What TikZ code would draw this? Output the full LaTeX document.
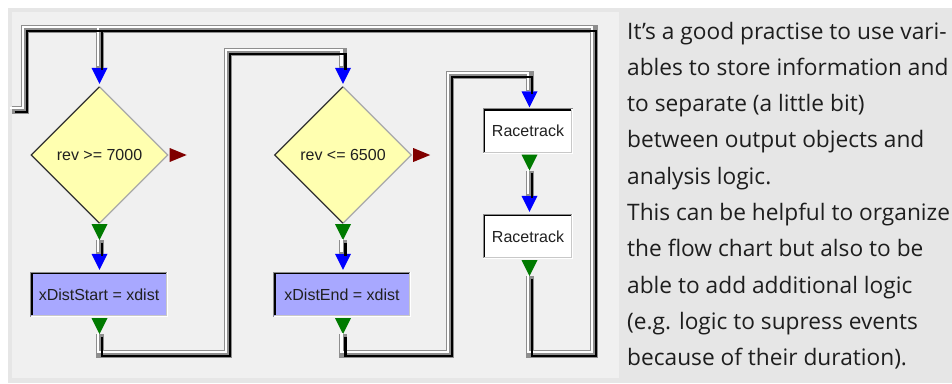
\documentclass[tikz,border=0pt]{standalone}
\usepackage{fontspec}
\setmainfont{Open Sans}
\newfontfamily\chartfont{Liberation Sans}
\usetikzlibrary{shapes.geometric,calc}

\definecolor{outerbg}{HTML}{E6E6E6}
\definecolor{panelbg}{HTML}{F0F0F0}
\definecolor{textbg}{HTML}{E6E6E6}
\definecolor{decfill}{HTML}{FFFFB0}
\definecolor{asgfill}{HTML}{A8A8FF}
\definecolor{inblue}{HTML}{0000FF}
\definecolor{outgreen}{HTML}{007A00}
\definecolor{falsered}{HTML}{800000}
\definecolor{pipegray}{HTML}{8E8E8E}
\definecolor{charttext}{HTML}{202020}
\definecolor{bodytext}{HTML}{1E1E1E}
\definecolor{edgedark}{HTML}{303030}
\definecolor{edgelight}{HTML}{A8A8A8}
\definecolor{frameouter}{HTML}{8C8C8C}
\definecolor{framelight}{HTML}{C8C8C8}

\tikzset{
  decision/.style={diamond, shape aspect=1, fill=decfill, inner sep=0pt,
    minimum width=136pt, minimum height=136pt, font=\chartfont\fontsize{16}{18}\selectfont, text=charttext},
  assign/.style={rectangle, fill=asgfill, inner sep=0pt, minimum width=137pt, minimum height=45pt,
    font=\chartfont\fontsize{16}{18}\selectfont, text=charttext},
  output/.style={rectangle, fill=white, inner sep=0pt, minimum width=90pt, minimum height=45pt,
    font=\chartfont\fontsize{16}{18}\selectfont, text=charttext},
  bodyline/.style={anchor=base west, inner sep=0pt, text=bodytext, font=\fontsize{22.7}{36}\selectfont},
  inarrow/.pic={\fill[inblue] (0,0) -- (-8,-16) -- (8,-16) -- cycle;},
  outarrow/.pic={\fill[outgreen] (-8,0) -- (8,0) -- (0,16) -- cycle;},
  falsearrow/.pic={\fill[falsered] (0,-7) -- (17,0) -- (0,7) -- cycle;},
}

\newcommand\sunkenframe[1]{%
  \draw[frameouter, line width=1pt] ($(#1.south west)+(0.5,-0.5)$) |- ($(#1.north east)+(-0.5,0.5)$);
  \draw[black, line width=1.5pt] ($(#1.south west)+(1.75,-1.75)$) |- ($(#1.north east)+(-1.75,1.75)$);
  \draw[white, line width=1pt] ($(#1.south west)+(0.5,-0.5)$) -| ($(#1.north east)+(-0.5,0.5)$);
  \draw[framelight, line width=1pt] ($(#1.south west)+(1.5,-1.5)$) -| ($(#1.north east)+(-1.5,1.5)$);
}
\newcommand\diamondedges[1]{%
  \draw[edgelight, line width=1.2pt, line join=miter] (#1.north) -- (#1.east) -- (#1.south);
  \draw[edgedark, line width=1.2pt, line join=miter] (#1.north) -- (#1.west) -- (#1.south);
}
\newcommand\allpipes[1]{%
  \draw[#1] (entry) -- (24.5,109.5) -- (24.5,28.5) -- (in_d1 |- 0,28.5);
  \draw[#1] (out_r2) |- (593.5,353.5) -- (593.5,28.5) -| (in_d1);
  \draw[#1] (out_d1) -- (in_b1);
  \draw[#1] (out_b1) |- (227.5,353.5) -- (227.5,51.5) -| (in_d2);
  \draw[#1] (out_d2) -- (in_b2);
  \draw[#1] (out_b2) |- (449.5,353.5) -- (449.5,74.5) -| (in_r1);
  \draw[#1] (out_r1) -- (in_r2);
}

\begin{document}
\begin{tikzpicture}[x=1pt, y=-1pt]
\path[use as bounding box, fill=white] (0,0) rectangle (952,383);
\fill[outerbg] (8,8) rectangle (952,383);
\fill[panelbg] (12,12) rectangle (619,378);
\fill[textbg] (619,8) rectangle (952,383);

% nodes
\node[decision] (d1) at (99.5,155) {rev >= 7000};
\node[assign] (b1) at (99,294.5) {xDistStart = xdist};
\node[decision] (d2) at (343,155) {rev <= 6500};
\node[assign] (b2) at (342,294.5) {xDistEnd = xdist};
\node[output] (r1) at (528,131) {Racetrack};
\node[output] (r2) at (528,236.5) {Racetrack};

\diamondedges{d1}
\diamondedges{d2}
\sunkenframe{b1}
\sunkenframe{b2}
\sunkenframe{r1}
\sunkenframe{r2}

% ports
\coordinate (entry) at (12,109.5);
\coordinate (in_d1) at ($(d1.north)+(0,-19)$);
\coordinate (out_d1) at ($(d1.south)+(0,17)$);
\coordinate (in_b1) at ($(b1.north)+(0.5,-18)$);
\coordinate (out_b1) at ($(b1.south)+(0.5,17)$);
\coordinate (in_d2) at ($(d2.north)+(0,-19)$);
\coordinate (out_d2) at ($(d2.south)+(0,17)$);
\coordinate (in_b2) at ($(b2.north)+(1,-18)$);
\coordinate (out_b2) at ($(b2.south)+(1,17)$);
\coordinate (in_r1) at ($(r1.north)+(1.5,-17)$);
\coordinate (out_r1) at ($(r1.south)+(1.5,17)$);
\coordinate (in_r2) at ($(r2.north)+(1.5,-18)$);
\coordinate (out_r2) at ($(r2.south)+(1.5,17)$);

% port arrows
\path ($(in_d1)+(0,16)$) pic {inarrow};
\path ($(in_b1)+(0,16)$) pic {inarrow};
\path ($(in_d2)+(0,16)$) pic {inarrow};
\path ($(in_b2)+(0,16)$) pic {inarrow};
\path ($(in_r1)+(0,16)$) pic {inarrow};
\path ($(in_r2)+(0,16)$) pic {inarrow};
\path ($(out_d1)+(0,-16)$) pic {outarrow};
\path ($(out_b1)+(0,-16)$) pic {outarrow};
\path ($(out_d2)+(0,-16)$) pic {outarrow};
\path ($(out_b2)+(0,-16)$) pic {outarrow};
\path ($(out_r1)+(0,-16)$) pic {outarrow};
\path ($(out_r2)+(0,-16)$) pic {outarrow};
\path ($(d1.east)+(2,0)$) pic {falsearrow};
\path ($(d2.east)+(2,0)$) pic {falsearrow};

% connectors (3D pipes)
\allpipes{pipegray, line width=8pt}
\allpipes{white, line width=2.6pt, transform canvas={shift={(-1.6,-1.6)}}}
\allpipes{black, line width=2.4pt, transform canvas={shift={(2.6,2.6)}}}

% explanatory text
\node[bodyline] (t1) at (627,39) {It’s a good practise to use vari-};
\node[bodyline] (t2) at (627,75.3) {ables to store information and};
\node[bodyline] (t3) at (627,111.6) {to separate (a little bit)};
\node[bodyline] (t4) at (627,147.9) {between output objects and};
\node[bodyline] (t5) at (627,184.2) {analysis logic.};
\node[bodyline] (t6) at (627,220.5) {This can be helpful to organize};
\node[bodyline] (t7) at (627,256.8) {the flow chart but also to be};
\node[bodyline] (t8) at (627,293.1) {able to add additional logic};
\node[bodyline] (t9) at (627,329.4) {(e.g. logic to supress events};
\node[bodyline] (t10) at (627,365.7) {because of their duration).};
\end{tikzpicture}
\end{document}
